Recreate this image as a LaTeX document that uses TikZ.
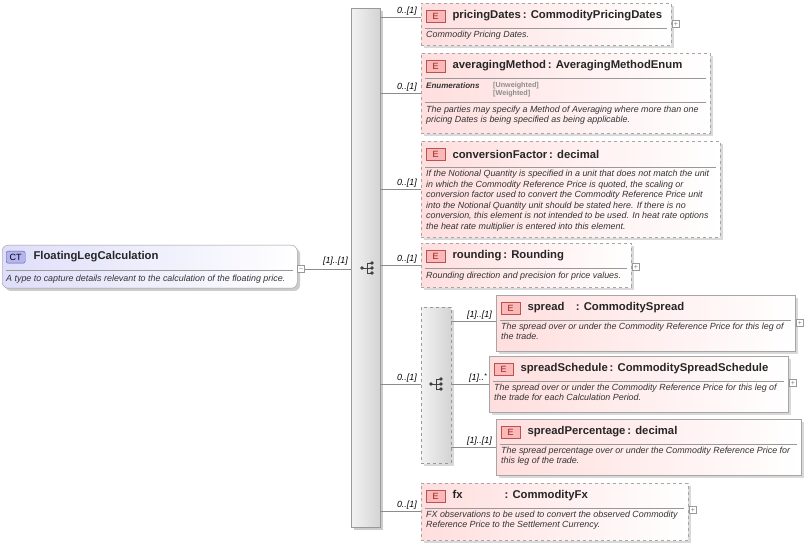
\documentclass[tikz,border=0pt]{standalone}
\usepackage{fontspec}
\setmainfont{Liberation Sans}
\begin{document}
\begin{tikzpicture}[x=1pt,y=-1pt,
 box/.style={draw=black!35,left color={rgb,255:red,255;green,222;blue,222},right color=white,minimum width=#1,anchor=north west,inner sep=0},
 dbox/.style={box=#1,dashed},
 ct/.style={draw=black!40,rounded corners=6pt,left color={rgb,255:red,222;green,222;blue,250},right color=white,anchor=north west,inner sep=0},
 badge/.style={draw={rgb,255:red,190;green,80;blue,80},fill={rgb,255:red,250;green,185;blue,185},minimum width=19pt,minimum height=12pt,inner sep=0,font=\fontsize{9}{9}\selectfont,anchor=north west,text={rgb,255:red,150;green,30;blue,30}},
 ttl/.style={font=\fontsize{11.3}{12}\selectfont\bfseries,anchor=west,text=black!85},
 dsc/.style={font=\fontsize{8.9}{9.6}\selectfont\itshape,anchor=north west,align=left,inner sep=0,text=black!80},
 lbl/.style={font=\fontsize{8.9}{9}\selectfont\itshape,anchor=south east,inner sep=1pt},
 ln/.style={draw=black!45},
 pm/.style={draw=black!40,fill=white,minimum size=7pt,inner sep=0,font=\fontsize{7}{7}\selectfont,text=black!50},
 seq/.style={draw=black!40,left color=black!5,right color=black!17,anchor=north west,inner sep=0},
 ico/.style={black!75}
]
\useasboundingbox (0,0) rectangle (806,545);
% CT
\fill[black!20,rounded corners=6pt] (5,248) rectangle (300,291);
\node[ct,minimum width=295,minimum height=43] (ctb) at (2,245) {};
\draw[black!40] (6,270) -- (293,270);
\node[draw={rgb,255:red,90;green,90;blue,170},fill={rgb,255:red,180;green,180;blue,240},rounded corners=2pt,minimum width=19pt,minimum height=12pt,inner sep=0,font=\fontsize{9}{9}\selectfont,anchor=north west] (ctbadge) at (6,251) {CT};
\node[ttl] (ctt) at (30,257) {FloatingLegCalculation};
\node[dsc] (ctd) at (6,275) {A type to capture details relevant to the calculation of the floating price.};
\node[pm] (ctm) at (301,269) {--};
% main sequence
\fill[black!20] (354,11) rectangle (383,530);
\node[seq,minimum width=29,minimum height=519] (seq) at (351,8) {};
\coordinate (seqin) at (351,269);
\draw[ln] (ctm.east) -- (seqin);
\node[lbl] (l0) at (349,267) {[1]..[1]};
\begin{scope}[shift={(367,268)}]
\draw[ico,thick] (-5,0) -- (0,0) (0,-5) -- (0,5) (0,-5) -- (5,-5) (0,0) -- (5,0) (0,5) -- (5,5);
\fill[ico] (-5,0) circle (1.8) (5,-5) circle (1.8) (5,0) circle (1.8) (5,5) circle (1.8);
\end{scope}
% branches
\foreach \y/\n in {17/a,93/b,189/c,265/d,384/e,511/f}{
 \coordinate (s\n) at (380,\y); \coordinate (t\n) at (421,\y);
 \draw[ln] (s\n) -- (t\n);
 \node[lbl] at (418,\y) {0..[1]};
}
% pricingDates
\fill[black!15] (424,6) rectangle (674,48);
\node[dbox=250,minimum height=42] (pd) at (421,3) {};
\node[badge] at (426,10) {E};
\node[ttl] at (449,16) {pricingDates\,: CommodityPricingDates};
\draw[black!40] (425,28) -- (667,28);
\node[dsc] at (426,31) {Commodity Pricing Dates.};
\node[pm] at (676,24) {+};
% averagingMethod
\fill[black!15] (424,56) rectangle (713,136);
\node[dbox=289,minimum height=80] (am) at (421,53) {};
\node[badge] at (426,60) {E};
\node[ttl] at (449,66) {averagingMethod\,: AveragingMethodEnum};
\draw[black!40] (425,78) -- (706,78);
\node[dsc,font=\fontsize{8}{8}\selectfont\bfseries\itshape] at (426,83) {Enumerations};
\node[dsc,font=\fontsize{7.2}{8.5}\selectfont\bfseries,text=black!45] at (493,82) {[Unweighted]\\{[Weighted]}};
\draw[black!40] (425,102) -- (706,102);
\node[dsc] at (426,106) {The parties may specify a Method of Averaging where more than one\\pricing Dates is being specified as being applicable.};
% conversionFactor
\fill[black!15] (424,144) rectangle (723,240);
\node[dbox=299,minimum height=96] (cf) at (421,141) {};
\node[badge] at (426,148) {E};
\node[ttl] at (449,154) {conversionFactor\,: decimal};
\draw[black!40] (425,167) -- (716,167);
\node[dsc,font=\fontsize{8.9}{10.5}\selectfont\itshape] at (426,170) {If the Notional Quantity is specified in a unit that does not match the unit\\in which the Commodity Reference Price is quoted, the scaling or\\conversion factor used to convert the Commodity Reference Price unit\\into the Notional Quantity unit should be stated here. If there is no\\conversion, this element is not intended to be used. In heat rate options\\the heat rate multiplier is entered into this element.};
% rounding
\fill[black!15] (424,246) rectangle (634,290);
\node[dbox=210,minimum height=44] (rd) at (421,243) {};
\node[badge] at (426,250) {E};
\node[ttl] at (449,256) {rounding\,: Rounding};
\draw[black!40] (425,268) -- (627,268);
\node[dsc] at (426,272) {Rounding direction and precision for price values.};
\node[pm] at (636,267) {+};
% choice
\fill[black!15] (424,310) rectangle (454,466);
\node[seq,dashed,minimum width=30,minimum height=156] (ch) at (421,307) {};
\begin{scope}[shift={(436,384)}]
\draw[ico,thick] (-5,0) -- (0,0) (0,-5) -- (0,5) (0,-5) -- (5,-5) (0,0) -- (5,0) (0,5) -- (5,5);
\fill[ico] (-5,0) circle (1.8) (5,-5) circle (1.8) (5,0) circle (1.8) (5,5) circle (1.8);
\end{scope}
\foreach \y/\x/\n/\t/\lx in {321/496/g/{[1]..[1]}/493,384/489/h/{[1]..\raisebox{2pt}{\fontsize{7}{7}\selectfont *}}/488,447/496/i/{[1]..[1]}/493}{
 \coordinate (s\n) at (451,\y); \coordinate (t\n) at (\x,\y);
 \draw[ln] (s\n) -- (t\n);
 \node[lbl] at (\lx,\y) {\t};
}
% spread
\fill[black!15] (499,298) rectangle (798,354);
\node[box=299,minimum height=56] (sp) at (496,295) {};
\node[badge] at (501,302) {E};
\node[ttl] at (524,308) {spread\quad: CommoditySpread};
\draw[black!40] (500,320) -- (791,320);
\node[dsc] at (501,323) {The spread over or under the Commodity Reference Price for this leg of\\the trade.};
\node[pm] at (800,323) {+};
% spreadSchedule
\fill[black!15] (492,359) rectangle (791,415);
\node[box=299,minimum height=56] (ss) at (489,356) {};
\node[badge] at (494,363) {E};
\node[ttl] at (517,369) {spreadSchedule\,: CommoditySpreadSchedule};
\draw[black!40] (493,381) -- (784,381);
\node[dsc] at (494,384) {The spread over or under the Commodity Reference Price for this leg of\\the trade for each Calculation Period.};
\node[pm] at (793,383) {+};
% spreadPercentage
\fill[black!15] (499,422) rectangle (804,478);
\node[box=305,minimum height=56] (spp) at (496,419) {};
\node[badge] at (501,426) {E};
\node[ttl] at (524,432) {spreadPercentage\,: decimal};
\draw[black!40] (500,444) -- (797,444);
\node[dsc] at (501,447) {The spread percentage over or under the Commodity Reference Price for\\this leg of the trade.};
% fx
\fill[black!15] (424,486) rectangle (691,543);
\node[dbox=267,minimum height=57] (fx) at (421,483) {};
\node[badge] at (426,490) {E};
\node[ttl] at (449,496) {fx\hspace{42pt}: CommodityFx};
\draw[black!40] (425,508) -- (684,508);
\node[dsc] at (426,511) {FX observations to be used to convert the observed Commodity\\Reference Price to the Settlement Currency.};
\node[pm] at (693,510) {+};
\end{tikzpicture}
\end{document}
